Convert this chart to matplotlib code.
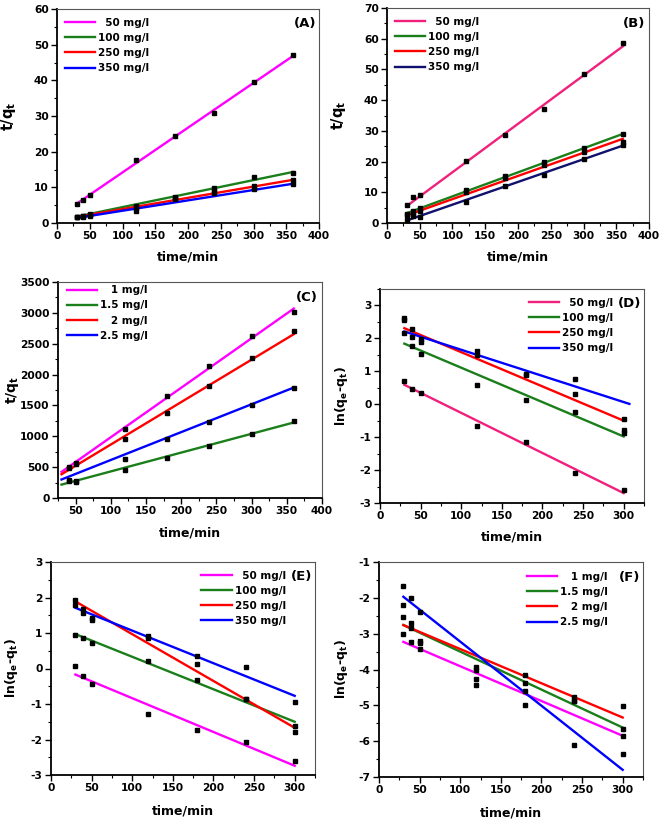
import matplotlib
matplotlib.use("Agg")
import matplotlib.pyplot as plt
from matplotlib.ticker import MultipleLocator

plt.rcParams['font.family'] = ['DejaVu Sans']
plt.rcParams['font.weight'] = 'bold'
plt.rcParams['axes.unicode_minus'] = False
plt.rcParams['mathtext.fontset'] = 'custom'
plt.rcParams['mathtext.rm'] = 'DejaVu Sans:bold'
plt.rcParams['mathtext.it'] = 'DejaVu Sans:bold'
plt.rcParams['mathtext.bf'] = 'DejaVu Sans:bold'

# ---------------- data ----------------
t_ab = [30, 40, 50, 120, 180, 240, 300, 360]
t_c = [40, 50, 120, 180, 240, 300, 360]
t_def = [30, 40, 50, 120, 180, 240, 300]

labels_abde = ['  50 mg/l', '100 mg/l', '250 mg/l', '350 mg/l']
labels_cf = ['   1 mg/l', '1.5 mg/l', '   2 mg/l', '2.5 mg/l']

# Panel A: t/qt
a_50 = [5.4, 6.5, 7.9, 17.8, 24.5, 30.8, 39.5, 47.0]
a_100 = [1.8, 2.0, 2.4, 4.9, 7.4, 9.7, 12.8, 14.0]
a_250 = [1.7, 1.9, 2.2, 4.3, 7.0, 8.9, 10.3, 12.0]
a_350 = [1.6, 1.8, 2.0, 3.4, 6.8, 8.5, 9.4, 10.9]
a_fit_x = [30, 360]
a_fit = [[5.4, 46.8], [1.8, 14.3], [1.7, 12.1], [1.4, 11.0]]

# Panel B: t/qt
b_50 = [5.8, 8.4, 9.0, 20.1, 28.7, 37.1, 48.6, 58.5]
b_100 = [2.9, 4.0, 4.8, 10.6, 15.2, 20.0, 24.5, 29.0]
b_250 = [2.5, 3.0, 3.8, 10.0, 14.6, 19.0, 23.0, 26.5]
b_350 = [1.0, 2.2, 2.1, 7.0, 11.9, 15.5, 20.8, 25.5]
b_fit_x = [30, 360]
b_fit = [[5.5, 57.5], [3.2, 29.0], [2.5, 27.4], [0.8, 25.2]]

# Panel C: t/qt
c_1 = [504, 569, 1116, 1658, 2145, 2627, 3006]
c_15 = [280, 255, 450, 650, 845, 1045, 1246]
c_2 = [480, 550, 964, 1370, 1809, 2275, 2703]
c_25 = [290, 270, 639, 948, 1235, 1500, 1777]
c_fit_x = [30, 360]
c_fit = [[423, 3070], [217, 1224], [385, 2655], [300, 1790]]

# Panel D: ln(qe-qt)
d_50 = [0.72, 0.46, 0.34, -0.65, -1.14, -2.09, -2.60]
d_100 = [2.15, 1.76, 1.52, 0.59, 0.12, -0.25, -0.88]
d_250 = [2.55, 2.27, 1.97, 1.50, 0.90, 0.30, -0.45]
d_350 = [2.62, 2.05, 1.88, 1.63, 0.92, 0.77, -0.78]
d_fit_x = [[30, 300], [30, 300], [30, 300], [30, 307]]
d_fit = [[0.59, -2.70], [1.84, -0.98], [2.31, -0.50], [2.21, 0.01]]

# Panel E: ln(qe-qt)
e_50 = [0.07, -0.20, -0.43, -1.29, -1.74, -2.08, -2.60]
e_100 = [0.93, 0.85, 0.72, 0.22, -0.32, -0.86, -1.62]
e_250 = [1.92, 1.68, 1.42, 0.87, 0.12, -0.86, -1.79]
e_350 = [1.78, 1.55, 1.37, 0.92, 0.36, 0.03, -0.95]
e_fit_x = [30, 300]
e_fit = [[-0.17, -2.74], [0.97, -1.50], [1.89, -1.67], [1.71, -0.77]]

# Panel F: ln(qe-qt)
f_1 = [-3.00, -3.22, -3.42, -4.42, -4.60, -4.88, -5.85]
f_15 = [-2.53, -2.85, -3.27, -4.27, -4.37, -4.88, -5.67]
f_2 = [-2.20, -2.70, -3.20, -3.93, -4.15, -4.78, -5.02]
f_25 = [-1.67, -2.00, -2.40, -4.00, -5.00, -6.10, -6.35]
f_fit_x = [30, 300]
f_fit = [[-3.23, -5.85], [-2.76, -5.62], [-2.76, -5.34], [-1.97, -6.80]]

# ---------------- styling ----------------
MAG = '#FF00FF'
PINK = '#F0207C'
GRN = '#1A7F1A'
RED = '#FF0000'
BLU = '#0000FF'
NAVY = '#10106E'

W, H = 661, 823
fig = plt.figure(figsize=(W / 100, H / 100), dpi=100)


def make_ax(l, t, r, b):
    ax = fig.add_axes([l / W, 1 - b / H, (r - l) / W, (b - t) / H])
    for s in ['left', 'bottom']:
        ax.spines[s].set_linewidth(1.3)
        ax.spines[s].set_color('black')
    for s in ['top', 'right']:
        ax.spines[s].set_linewidth(0.8)
        ax.spines[s].set_color('#555555')
    ax.tick_params(which='major', direction='out', length=4, width=1.0,
                   labelsize=7.7, pad=2)
    ax.tick_params(which='minor', direction='out', length=2, width=0.8)
    return ax


def draw(ax, tx, series, fit_x, fits, colors, labels):
    for i, (ys, fy, c, lb) in enumerate(zip(series, fits, colors, labels)):
        fx = fit_x[i] if isinstance(fit_x[0], list) else fit_x
        ax.plot(fx, fy, color=c, lw=1.7, label=lb, zorder=2)
    for ys in series:
        ax.plot(tx, ys, 's', color='black', ms=3.5, ls='none', zorder=3)


def legend(ax, x, y):
    ax.legend(loc='upper left', bbox_to_anchor=(x, y), frameon=False,
              prop={'weight': 'bold', 'size': 7.5}, handlelength=2.9,
              handletextpad=0.3, labelspacing=0.5, borderpad=0,
              borderaxespad=0)


def finish(ax, ylabel, tag, tx, ty, ylx, xly, ysize=9):
    ax.set_xlabel('time/min', fontsize=9, fontweight='bold', va='top')
    ax.xaxis.set_label_coords(0.5, xly)
    ax.set_ylabel(ylabel, fontsize=ysize, fontweight='bold')
    ax.yaxis.set_label_coords(ylx, 0.5)
    ax.text(tx, ty, tag, transform=ax.transAxes, ha='right', va='center',
            fontsize=9.5, fontweight='bold')
    for lab in ax.get_xticklabels() + ax.get_yticklabels():
        lab.set_fontweight('bold')


tq = 't/q$_{\\mathrm{t}}$'
lnq = 'ln(q$_{\\mathrm{e}}$-q$_{\\mathrm{t}}$)'

# A
ax = make_ax(57, 9, 319, 223)
draw(ax, t_ab, [a_50, a_100, a_250, a_350], a_fit_x, a_fit,
     [MAG, GRN, RED, BLU], labels_abde)
ax.set_xlim(0, 400); ax.set_ylim(0, 60)
ax.xaxis.set_major_locator(MultipleLocator(50)); ax.xaxis.set_minor_locator(MultipleLocator(25))
ax.yaxis.set_major_locator(MultipleLocator(10)); ax.yaxis.set_minor_locator(MultipleLocator(5))
legend(ax, 0.03, 0.96)
finish(ax, tq, '(A)', 0.99, 0.93, -0.149, -0.13, 10.5)

# B
ax = make_ax(387, 8, 649, 223)
draw(ax, t_ab, [b_50, b_100, b_250, b_350], b_fit_x, b_fit,
     [PINK, GRN, RED, NAVY], labels_abde)
ax.set_xlim(0, 400); ax.set_ylim(0, 70)
ax.xaxis.set_major_locator(MultipleLocator(50)); ax.xaxis.set_minor_locator(MultipleLocator(25))
ax.yaxis.set_major_locator(MultipleLocator(10)); ax.yaxis.set_minor_locator(MultipleLocator(5))
legend(ax, 0.03, 0.96)
finish(ax, tq, '(B)', 0.985, 0.93, -0.149, -0.13, 10.5)

# C
ax = make_ax(58, 282, 322, 498)
draw(ax, t_c, [c_1, c_15, c_2, c_25], c_fit_x, c_fit,
     [MAG, GRN, RED, BLU], labels_cf)
ax.set_xlim(25, 400); ax.set_ylim(0, 3500)
ax.xaxis.set_major_locator(MultipleLocator(50)); ax.xaxis.set_minor_locator(MultipleLocator(25))
ax.yaxis.set_major_locator(MultipleLocator(500)); ax.yaxis.set_minor_locator(MultipleLocator(250))
legend(ax, 0.034, 0.985)
finish(ax, tq, '(C)', 0.985, 0.93, -0.14, -0.13, 10)

# D
ax = make_ax(380, 289, 644, 503)
draw(ax, t_def, [d_50, d_100, d_250, d_350], d_fit_x, d_fit,
     [PINK, GRN, RED, BLU], labels_abde)
ax.set_xlim(0, 325); ax.set_ylim(-3, 3.5)
ax.xaxis.set_major_locator(MultipleLocator(50)); ax.xaxis.set_minor_locator(MultipleLocator(25))
ax.yaxis.set_major_locator(MultipleLocator(1)); ax.yaxis.set_minor_locator(MultipleLocator(0.5))
legend(ax, 0.565, 0.96)
finish(ax, lnq, '(D)', 0.99, 0.93, -0.114, -0.13)

# E
ax = make_ax(51, 562, 315, 775)
draw(ax, t_def, [e_50, e_100, e_250, e_350], e_fit_x, e_fit,
     [MAG, GRN, RED, BLU], labels_abde)
ax.set_xlim(0, 325); ax.set_ylim(-3, 3)
ax.xaxis.set_major_locator(MultipleLocator(50)); ax.xaxis.set_minor_locator(MultipleLocator(25))
ax.yaxis.set_major_locator(MultipleLocator(1)); ax.yaxis.set_minor_locator(MultipleLocator(0.5))
legend(ax, 0.57, 0.96)
finish(ax, lnq, '(E)', 0.99, 0.93, -0.117, -0.14)

# F
ax = make_ax(379, 562, 643, 777)
draw(ax, t_def, [f_1, f_15, f_2, f_25], f_fit_x, f_fit,
     [MAG, GRN, RED, BLU], labels_cf)
ax.set_xlim(0, 325); ax.set_ylim(-7, -1)
ax.xaxis.set_major_locator(MultipleLocator(50)); ax.xaxis.set_minor_locator(MultipleLocator(25))
ax.yaxis.set_major_locator(MultipleLocator(1)); ax.yaxis.set_minor_locator(MultipleLocator(0.5))
legend(ax, 0.56, 0.955)
finish(ax, lnq, '(F)', 0.99, 0.93, -0.11, -0.135)

fig.savefig('out.png', dpi=100)
